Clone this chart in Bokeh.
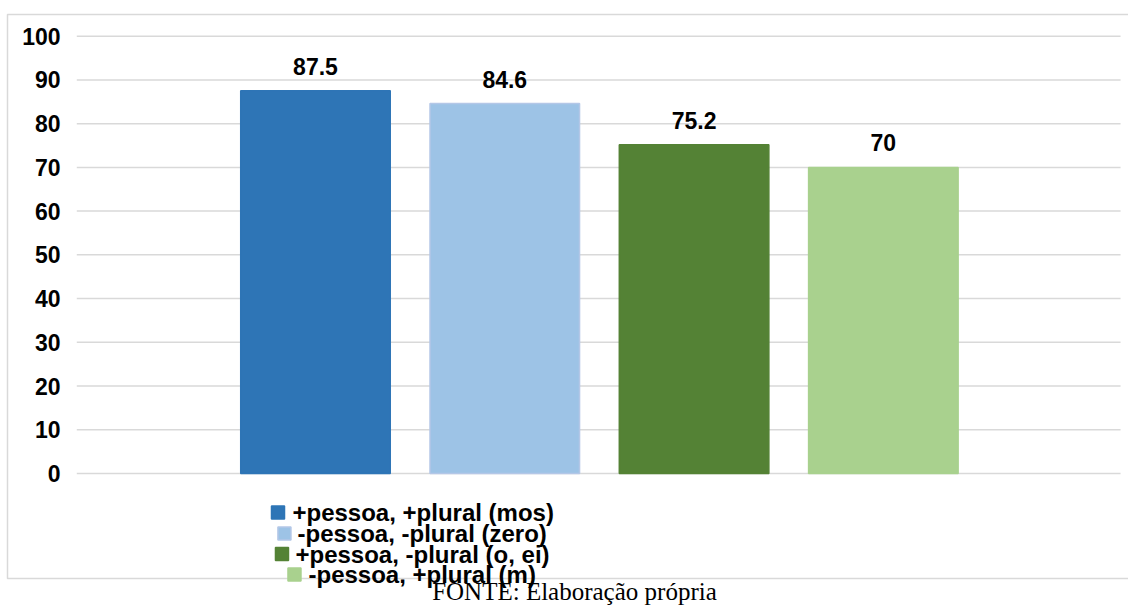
from bokeh.plotting import figure
from bokeh.models import Range1d, ColumnDataSource
from bokeh.core.properties import value
from bokeh.embed import file_html
from bokeh.resources import INLINE

# ---- data ----
categories = ["+pessoa, +plural (mos)", "-pessoa, -plural (zero)",
              "+pessoa, -plural (o, ei)", "-pessoa, +plural (m)"]
values = [87.5, 84.6, 75.2, 70]
colors = ["#2e75b6", "#9dc3e6", "#548235", "#a9d18e"]
edge_colors = ["#2e75b6", "#b4c7e7", "#548235", "#a9d18e"]
y_ticks = [0, 10, 20, 30, 40, 50, 60, 70, 80, 90, 100]
y_tick_labels = [str(t) for t in y_ticks]
source_note = "FONTE: Elaboração própria"

FONT = value("Liberation Sans")

p = figure(width=1128, height=607, output_backend="svg", toolbar_location=None,
           x_range=Range1d(-1.664, 4.295), y_range=Range1d(-30.64, 108.16),
           x_axis_type=None, y_axis_type=None,
           min_border_left=0, min_border_right=0, min_border_top=0, min_border_bottom=0)
p.outline_line_color = None
p.background_fill_color = "white"
p.border_fill_color = "white"

xs = list(range(len(values)))

# outer chart border
p.quad(left=[-1.627], right=[4.4], top=[104.96], bottom=[-24.01],
       fill_color=None, line_color="#d9d9d9", line_width=1.5)

# gridlines
p.segment(x0=[-1.261] * len(y_ticks), x1=[4.253] * len(y_ticks), y0=y_ticks, y1=y_ticks,
          line_color="#d9d9d9", line_width=1.5)

# y tick labels
p.text(x=[-1.347] * len(y_ticks), y=y_ticks, text=y_tick_labels, text_align="right",
       text_baseline="middle", text_font=FONT, text_font_style="bold",
       text_font_size="23px", text_color="black")

# bars
src = ColumnDataSource(dict(x=xs, top=values, color=colors, line=edge_colors,
                            lab=[f"{v:g}" for v in values]))
p.vbar(x="x", top="top", width=0.79, bottom=0, fill_color="color", line_color="line",
       line_width=1.5, source=src)

# value labels
p.text(x="x", y="top", text="lab", source=src, text_align="center", text_baseline="bottom",
       y_offset=-16, text_font=FONT, text_font_style="bold", text_font_size="23px",
       text_color="black")

# legend (manual, staggered as in original)
leg_y = [-8.92, -13.72, -18.41, -23.1]
sw_x = [-0.198, -0.164, -0.177, -0.111]
tx_x = [-0.1215, -0.0951, -0.1057, -0.037]
p.rect(x=sw_x, y=leg_y, width=13, height=13, width_units="screen", height_units="screen",
       fill_color=colors, line_color=edge_colors, line_width=1.5)
p.text(x=tx_x, y=leg_y, text=categories, text_align="left", text_baseline="middle",
       text_font=FONT, text_font_style="bold", text_font_size="24px", text_color="black")

# source note
p.text(x=[1.368], y=[-27.0], text=[source_note], text_align="center", text_baseline="middle",
       text_font=value("Liberation Serif"), text_font_size="25px", text_color="black")

open("out.html", "w").write(file_html(p, INLINE))
